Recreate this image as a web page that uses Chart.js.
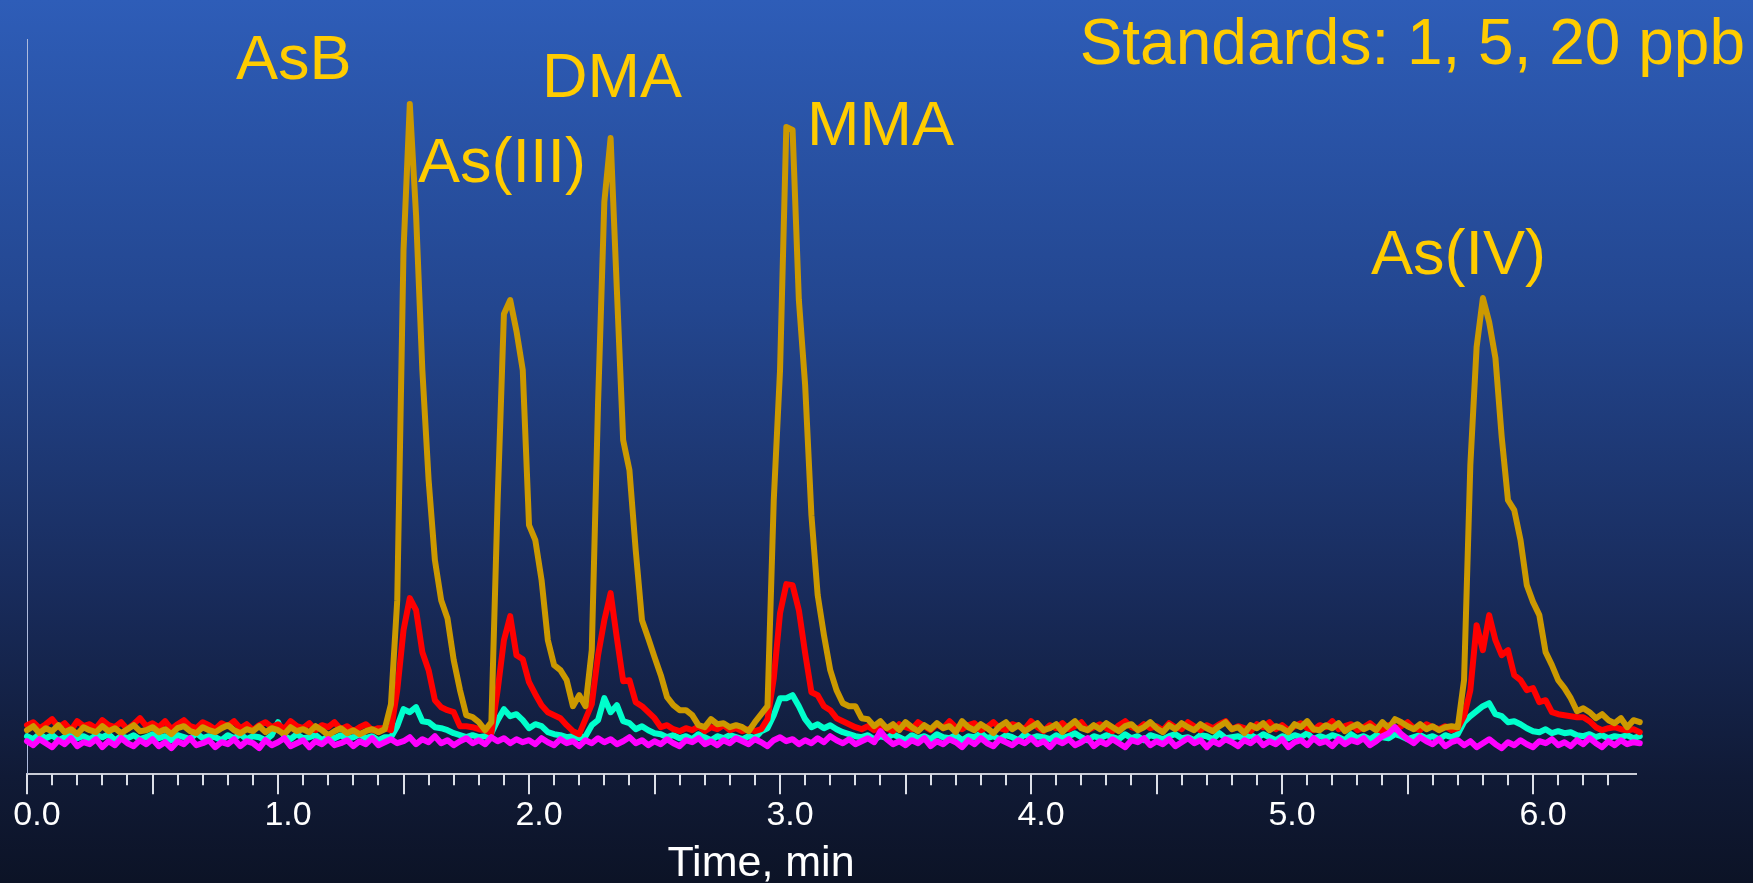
<!DOCTYPE html>
<html><head><meta charset="utf-8">
<script src="https://cdn.jsdelivr.net/npm/chart.js@4"></script>
<style>
html,body{margin:0;padding:0;width:1753px;height:883px;overflow:hidden;
background:linear-gradient(to bottom,#2E5DB8 0%,#23468F 35%,#192D5F 65%,#101A36 88%,#0C1326 100%);}
canvas{display:block;}
</style></head><body>
<canvas id="c" width="1753" height="883"></canvas>
<script>
// Sampling interval of the chromatogram (min) and axis tick labels
const sampleInterval = 0.025;
const tickLabels = ["0.0","1.0","2.0","3.0","4.0","5.0","6.0"];

// 20 ppb standard (gold)
const std20 = [
44,48,41,46,43,49,42,45,40,47,
44,42,48,43,46,41,45,49,43,44,
47,42,45,40,46,48,43,41,47,44,
42,46,49,44,41,45,43,48,42,46,
44,40,47,43,45,42,48,44,39,43,
46,41,44,40,43,45,42,
45,70,174,524,670,559,404,294,214,174,156,114,84,59,57,52,44,52,
274,460,474,443,404,249,234,194,134,109,104,94,68,79,
68,124,371,572,636,484,334,304,224,154,136,117,99,77,69,64,64,59,49,47,55,50,51,47,49,47,43,52,60,68,
274,404,647,644,474,389,259,179,139,104,84,71,68,68,56,55,48,53,
46,50,44,52,47,43,49,45,51,46,
48,42,53,47,44,50,46,41,48,52,
45,49,43,47,51,44,46,50,42,48,
53,46,44,49,45,51,47,43,48,50,
44,47,52,46,42,49,45,51,47,44,
50,46,43,48,52,45,47,41,49,46,
51,44,48,46,42,50,47,53,45,44,
49,46,51,43,47,50,45,48,44,52,
46,55,52,48,45,50,45,48,44,47,
48,
47,94,309,427,476,452,416,337,274,264,234,189,172,159,122,109,94,86,76,63,66,62,56,60,54,51,56,47,54,52
];

// 5 ppb standard (red)
const std5 = [
49,52,46,50,55,47,51,44,53,48,
50,46,54,49,47,52,45,50,56,48,
51,47,53,45,50,54,48,46,52,49,
45,51,48,53,46,50,44,49,52,47,
50,45,53,48,46,51,44,49,47,52,
45,48,43,47,50,44,46,
46,44,84,144,176,164,122,104,74,67,64,62,48,48,47,45,44,41,
84,134,158,119,115,92,80,69,62,59,56,49,43,40,
55,70,119,154,181,136,93,94,72,68,62,56,47,49,45,43,
46,44,48,43,47,45,49,44,46,43,45,
43,45,55,96,161,190,189,164,121,82,79,68,64,56,53,50,47,
45,48,44,49,46,43,50,47,45,52,
48,44,50,46,53,47,45,49,51,44,
47,52,46,44,50,48,45,53,47,43,
49,46,51,45,48,52,44,47,50,46,
43,49,53,47,45,50,46,48,44,51,
47,45,52,48,44,49,46,50,53,45,
48,46,43,50,47,52,45,49,44,48,
51,46,44,49,47,53,45,48,50,44,
47,51,46,43,49,45,48,52,46,44,
50,47,45,48,44,
46,58,84,149,124,159,134,119,124,99,94,84,86,72,74,62,60,59,58,57,57,53,47,44,46,47,45,44,45,42
];

// 1 ppb standard (cyan)
const std1 = [
38,35,40,36,39,34,37,41,36,38,
35,39,37,40,34,38,36,39,35,37,
40,36,38,34,39,37,35,41,36,38,
37,34,39,36,40,35,38,37,34,39,
52,38,35,40,36,37,39,34,38,36,
39,35,37,40,36,38,34,37,
37,48,65,62,67,53,52,47,46,44,41,39,37,39,37,38,41,
54,65,58,60,54,46,50,48,42,40,39,37,38,36,
38,49,54,76,62,69,53,51,45,48,44,41,40,37,
39,36,38,35,40,37,34,38,36,39,37,35,38,36,
43,46,59,76,76,79,68,55,47,50,46,49,45,42,40,38,
37,39,35,38,36,40,37,34,39,36,
38,35,40,37,36,39,34,38,37,41,
36,38,35,39,37,34,40,36,38,37,
35,39,36,38,41,37,34,38,36,39,
37,35,40,36,38,34,39,37,35,38,
40,36,37,34,39,38,35,41,36,37,
38,35,39,36,40,37,34,38,36,39,
37,41,35,38,36,39,37,34,40,36,
38,35,39,37,36,40,38,35,37,39,
36,38,35,39,37,40,
52,58,63,68,71,60,58,52,53,50,46,43,42,45,41,43,41,42,39,38,40,37,39,36,38,37,39,36,38
];

// Blank (magenta)
const blank = [
33,29,35,31,27,34,30,36,28,32,
30,35,27,33,29,36,31,28,34,30,
35,28,32,26,33,30,36,29,31,34,
27,32,30,35,28,33,31,26,34,29,
32,36,28,31,34,27,33,30,35,29,
31,34,28,33,30,36,29,32,35,31,
33,37,30,35,32,38,31,34,29,33,
36,31,34,30,37,33,36,31,35,32,
34,30,36,32,29,35,31,33,28,34,
31,36,32,35,30,33,37,31,34,29,
33,30,35,31,28,34,32,36,30,33,
29,34,31,36,33,30,35,32,28,34,
37,33,35,30,34,31,36,32,38,34,
31,35,30,33,36,32,43,35,30,33,
29,34,31,36,28,33,30,35,32,27,
34,30,36,31,28,35,32,29,34,31,
36,30,33,27,34,31,35,29,32,36,
28,33,30,35,31,27,34,32,36,29,
33,30,35,28,32,36,31,34,27,33,
30,35,32,28,34,31,36,29,33,30,
35,27,32,34,29,36,31,33,28,35,
30,34,32,36,29,33,38,41,47,40,
35,31,37,33,30,35,28,32,34,29,
33,27,31,35,30,26,32,29,34,30,
27,33,31,35,29,32,28,34,30,36,
31,27,33,29,34,30,32,31
];

// Peak labels and caption
const peakNames = ["AsB","As(III)","DMA","MMA","As(IV)"];
const caption = "Standards: 1, 5, 20 ppb";
const axisTitle = "Time, min";

const times = std20.map((_, i) => +(i * sampleInterval).toFixed(3));
const toXY = arr => arr.map((v, i) => ({x: times[i], y: v}));

const FONT = '"Liberation Sans", Arial, Helvetica, sans-serif';
const X_MAX = 6.41;

const textPlugin = {
  id: 'texts',
  afterDraw(chart) {
    const ctx = chart.ctx;
    const xs = chart.scales.x;
    const bottom = chart.chartArea.bottom;
    // axis ticks: long every 0.5, short every 0.1
    ctx.save();
    ctx.strokeStyle = '#DCDFE8';
    ctx.lineWidth = 2;
    xs.ticks.forEach(t => {
      const v = t.value;
      if (v > X_MAX - 0.05) return;
      const major = Math.abs(v * 2 - Math.round(v * 2)) < 1e-6;
      const px = Math.round(xs.getPixelForValue(v));
      ctx.beginPath();
      ctx.moveTo(px, bottom);
      ctx.lineTo(px, bottom + (major ? 20 : 11));
      ctx.stroke();
    });
    ctx.restore();

    ctx.save();
    ctx.fillStyle = '#FFCC00';
    ctx.font = '63px ' + FONT;
    ctx.textBaseline = 'alphabetic';
    ctx.textAlign = 'left';
    const pos = [[236,79],[418,182],[542,97],[807,145],[1371,274]];
    peakNames.forEach((n, k) => ctx.fillText(n, pos[k][0], pos[k][1]));
    ctx.textAlign = 'right';
    ctx.font = '64px ' + FONT;
    ctx.fillText(caption, 1745, 64);
    ctx.fillStyle = '#FFFFFF';
    ctx.textAlign = 'center';
    ctx.font = '43px ' + FONT;
    ctx.fillText(axisTitle, 761, 876);
    ctx.restore();
  }
};

const ds = (label, arr, color) => ({
  label, data: toXY(arr), borderColor: color, backgroundColor: color,
  borderWidth: 6, pointRadius: 0, tension: 0, fill: false, clip: 12,
  borderJoinStyle: 'round', borderCapStyle: 'round'
});

new Chart(document.getElementById('c'), {
  type: 'line',
  data: {
    datasets: [
      ds('Blank', blank, '#FF00FF'),
      ds('20 ppb', std20, '#CC9900'),
      ds('5 ppb', std5, '#FF0000'),
      ds('1 ppb', std1, '#00FFCC')
    ]
  },
  options: {
    responsive: false,
    animation: false,
    layout: { padding: { left: 27, right: 117, top: 39, bottom: 46 } },
    plugins: { legend: { display: false }, tooltip: { enabled: false }, title: { display: false } },
    scales: {
      x: {
        type: 'linear', min: 0, max: X_MAX,
        ticks: {
          stepSize: 0.1, autoSkip: false, includeBounds: false, maxRotation: 0,
          color: '#FFFFFF', font: { family: FONT, size: 34 }, padding: 1, labelOffset: 10,
          callback: v => {
            const k = Math.round(v);
            return Math.abs(v - k) < 1e-6 ? tickLabels[k] : '';
          }
        },
        grid: { display: true, drawOnChartArea: false, drawTicks: true, tickLength: 20, tickColor: 'rgba(0,0,0,0)' },
        border: { display: true, color: '#C9CCD6', width: 2 }
      },
      y: {
        min: 0, max: 735,
        ticks: { display: false },
        grid: { display: false, drawTicks: false },
        border: { display: true, color: '#AEBBDD', width: 1 }
      }
    }
  },
  plugins: [textPlugin]
});
</script>
</body></html>
